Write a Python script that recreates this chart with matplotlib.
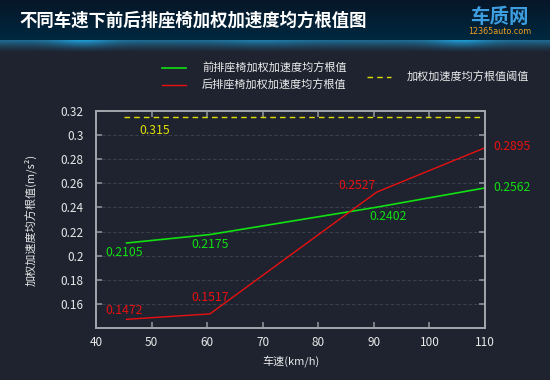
import numpy as np
import matplotlib
matplotlib.use("Agg")
import matplotlib.pyplot as plt

plt.rcParams['font.family'] = ['Noto Sans CJK SC', 'DejaVu Sans']

# data
speed = [45.5, 60.5, 90.5, 110]
front = [0.2105, 0.2175, 0.2402, 0.2562]
rear = [0.1472, 0.1517, 0.2527, 0.2895]
limit_x = [45, 110]
limit_val = 0.315

title = "不同车速下前后排座椅加权加速度均方根值图"
front_name = "前排座椅加权加速度均方根值"
rear_name = "后排座椅加权加速度均方根值"
limit_name = "加权加速度均方根值阈值"

bg = "#1f2330"
green = "#11e011"
red = "#e81010"
yellow = "#e0e000"
grey = "#a3a6ad"

fig = plt.figure(figsize=(5.5, 3.8), dpi=100)
fig.patch.set_facecolor(bg)

# header banner
hd = fig.add_axes([0, 1 - 40 / 380, 1, 40 / 380])
g = np.linspace(0, 1, 40)[:, None] * np.ones((1, 550))
hd.imshow(g, cmap=matplotlib.colors.LinearSegmentedColormap.from_list("h", ["#071628", "#00283f"]),
          aspect="auto", extent=[0, 550, 40, 0])
hd.set_xlim(0, 550)
hd.set_ylim(40, 0)
hd.axis("off")
hd.text(19, 21, title, color="white", fontsize=12.5, fontweight="bold", va="center", ha="left")
hd.text(499, 17, "车质网", color="#3d9ee0", fontsize=14, fontweight="bold", va="center", ha="center",
        style="italic")
hd.text(500, 32, "12365auto.com", color="#f0a020", fontsize=5.8, va="center", ha="center",
        family=["DejaVu Sans"])

# glow strip
gl = fig.add_axes([0, 1 - 54 / 380, 1, 14 / 380])
xx = np.linspace(0, 550, 550)[None, :]
yy = np.linspace(0, 1, 14)[:, None]
spots = (0.4 * np.exp(-((xx - 82) / 28) ** 2) + 0.4 * np.exp(-((xx - 462) / 28) ** 2)
         + 0.15 * np.exp(-((xx - 262) / 40) ** 2) + 0.6)
fade = np.clip(1 - yy * 1.05, 0, 1) ** 1.4
strip = np.zeros((14, 550, 3))
c_top = np.array([0.12, 0.6, 0.82])
c_bot = np.array([31, 35, 48]) / 255
for k in range(3):
    strip[:, :, k] = c_bot[k] + (c_top[k] - c_bot[k]) * np.clip(fade * spots, 0, 1)
gl.imshow(np.clip(strip, 0, 1), aspect="auto", extent=[0, 550, 14, 0])
gl.axis("off")

# main axes
ax = fig.add_axes([96 / 550, 1 - 328 / 380, (485 - 96) / 550, (328 - 111) / 380])
ax.set_facecolor(bg)

lf, = ax.plot(speed, front, color=green, lw=1.2, label=front_name)
lr, = ax.plot(speed, rear, color=red, lw=1.0, label=rear_name)
ll, = ax.plot(limit_x, [limit_val, limit_val], color=yellow, lw=1.0, ls=(0, (4, 3)), label=limit_name)

ax.set_xlim(40, 110)
ax.set_ylim(0.14, 0.32)
ax.set_xticks(range(40, 111, 10))
ax.set_yticks([0.16, 0.18, 0.2, 0.22, 0.24, 0.26, 0.28, 0.3, 0.32])
ax.set_yticklabels(["0.16", "0.18", "0.2", "0.22", "0.24", "0.26", "0.28", "0.3", "0.32"])
ax.grid(axis="y", color="#3b3f4c", ls=(0, (3, 2)), lw=0.8)
ax.set_axisbelow(True)
for s in ax.spines.values():
    s.set_color(grey)
    s.set_linewidth(1.4)
ax.tick_params(direction="in", length=4, width=1.2, color="#8c9098", top=True, right=True,
               labelcolor="#e8e8e8", labelsize=8.5)
ax.tick_params(axis="y", pad=9)
ax.tick_params(axis="x", pad=6)
ax.set_xlabel("车速(km/h)", color="#e8e8e8", fontsize=8)
ax.set_ylabel("加权加速度均方根值(m/s²)", color="#e8e8e8", fontsize=8)
ax.xaxis.set_label_coords(0.5, -(362 - 328) / 217, transform=ax.transAxes)
ax.yaxis.set_label_coords(-(96 - 30) / 389, 0.5, transform=ax.transAxes)
ax.xaxis.label.set_va("center")
ax.yaxis.label.set_va("center")

# value labels
fs = 8.8
ax.annotate(f"{limit_val}", (limit_x[0], limit_val), xytext=(11, -10), textcoords="offset points",
            color=yellow, fontsize=fs, ha="left", va="center")
f_off = [(-2, -7), (0, -7), (8, -7), (6, 0)]
r_off = [(-2, 6), (0, 12), (-14, 5), (6, 1)]
for x, v, o in zip(speed, front, f_off):
    ax.annotate(f"{v}", (x, v), xytext=o, textcoords="offset points", color=green, fontsize=fs,
                ha="left" if x == 110 else "center", va="center", annotation_clip=False)
for x, v, o in zip(speed, rear, r_off):
    ax.annotate(f"{v}", (x, v), xytext=o, textcoords="offset points", color=red, fontsize=fs,
                ha="left" if x == 110 else "center", va="center", annotation_clip=False)

# legends
leg_kw = dict(frameon=False, fontsize=8, labelcolor="#ececec", borderpad=0, borderaxespad=0,
              handlelength=2.2, handletextpad=1.4, labelspacing=0.55)
fig.legend(handles=[lf, lr], loc="center left", bbox_to_anchor=(162 / 550, 1 - 77 / 380), **leg_kw)
fig.legend(handles=[ll], loc="center left", bbox_to_anchor=(367 / 550, 1 - 77 / 380), **leg_kw)

fig.savefig("out.png", dpi=100, facecolor=bg)
